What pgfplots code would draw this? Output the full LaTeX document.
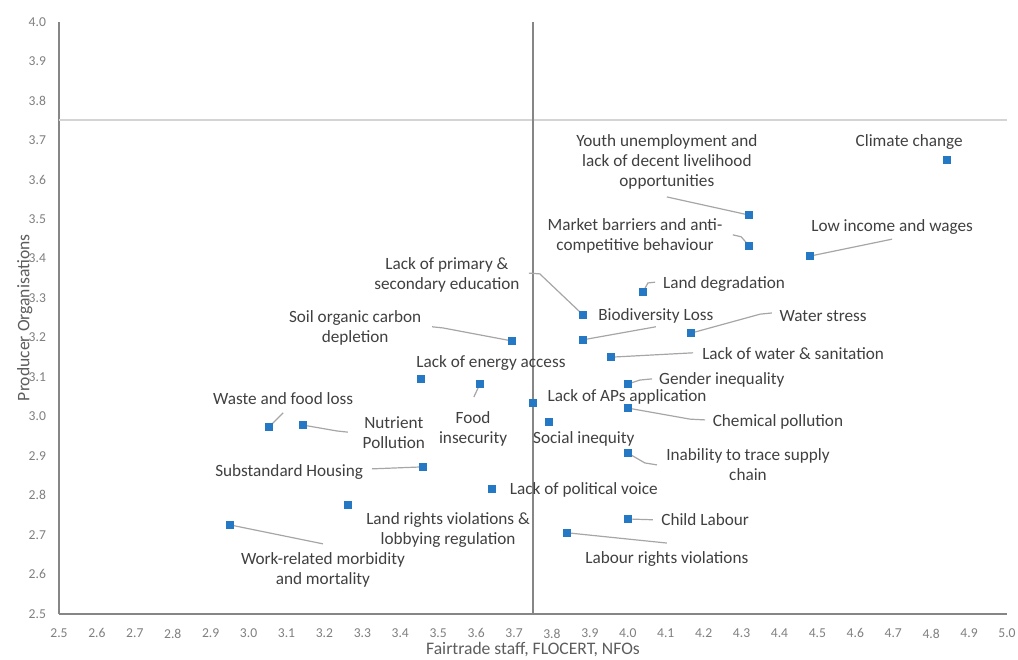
\documentclass[border=0pt]{standalone}
\usepackage{fontspec}
\setmainfont{Carlito}
\usepackage{pgfplots}
\pgfplotsset{compat=1.18}
\usetikzlibrary{calc}

\definecolor{markblue}{HTML}{2478C4}
\definecolor{leader}{HTML}{A6A6A6}
\definecolor{txt}{HTML}{404040}
\definecolor{tick}{HTML}{7F7F7F}
\definecolor{spine}{HTML}{868686}
\definecolor{hline}{HTML}{D4D4D4}

\begin{document}
\begin{tikzpicture}[
  lbl/.style={font=\fontsize{8.6}{10}\selectfont, text=txt, align=center, inner sep=0pt},
  ld/.style={draw=leader, line width=0.6pt}
]
\begin{axis}[
  width=474pt, height=296pt, scale only axis,
  xmin=2.5, xmax=5.0, ymin=2.5, ymax=4.0,
  axis lines=left,
  axis line style={draw=spine, line width=0.9pt, -},
  major tick length=0pt,
  xtick={2.5,2.6,2.7,2.8,2.9,3.0,3.1,3.2,3.3,3.4,3.5,3.6,3.7,3.8,3.9,4.0,4.1,4.2,4.3,4.4,4.5,4.6,4.7,4.8,4.9,5.0},
  ytick={2.5,2.6,2.7,2.8,2.9,3.0,3.1,3.2,3.3,3.4,3.5,3.6,3.7,3.8,3.9,4.0},
  /pgf/number format/assume math mode=true,
  /pgf/number format/.cd, fixed, fixed zerofill, precision=1, /pgfplots/.cd,
  ticklabel style={font=\fontsize{6.8}{8}\selectfont, text=tick},
  xticklabel style={yshift=-4pt},
  yticklabel style={xshift=-3pt},
  xlabel={Fairtrade staff, FLOCERT, NFOs},
  ylabel={Producer Organisations},
  label style={font=\fontsize{8.8}{10}\selectfont, text=txt!85},
  xlabel style={at={(axis description cs:0.5,-0.061)}, anchor=center},
  ylabel style={at={(axis description cs:-0.036,0.5)}, anchor=center},
  clip=false,
]
% reference lines
\addplot[draw=hline, line width=0.9pt] coordinates {(2.5,3.75) (5.0,3.75)};
\addplot[draw=spine, line width=0.9pt] coordinates {(3.75,2.5) (3.75,4.0)};

% leader lines
\draw[ld] (axis cs:4.103,3.556) -- (axis cs:4.32,3.51);
\draw[ld] (axis cs:4.277,3.460) -- (axis cs:4.299,3.455) -- (axis cs:4.32,3.432);
\draw[ld] (axis cs:4.697,3.449) -- (axis cs:4.48,3.406);
\draw[ld] (axis cs:4.072,3.340) -- (axis cs:4.053,3.338) -- (axis cs:4.04,3.315);
\draw[ld] (axis cs:3.739,3.363) -- (axis cs:3.768,3.361) -- (axis cs:3.882,3.257);
\draw[ld] (axis cs:4.074,3.227) -- (axis cs:3.882,3.194);
\draw[ld] (axis cs:4.380,3.262) -- (axis cs:4.349,3.259) -- (axis cs:4.167,3.211);
\draw[ld] (axis cs:4.172,3.161) -- (axis cs:3.956,3.150);
\draw[ld] (axis cs:3.484,3.227) -- (axis cs:3.513,3.224) -- (axis cs:3.695,3.191);
\draw[ld] (axis cs:3.594,3.049) -- (axis cs:3.61,3.082);
\draw[ld] (axis cs:3.091,3.009) -- (axis cs:3.054,2.973);
\draw[ld] (axis cs:3.262,2.960) -- (axis cs:3.233,2.963) -- (axis cs:3.143,2.978);
\draw[ld] (axis cs:3.325,2.867) -- (axis cs:3.46,2.872);
\draw[ld] (axis cs:3.196,2.677) -- (axis cs:2.951,2.725);
\draw[ld] (axis cs:4.064,3.095) -- (axis cs:4.032,3.092) -- (axis cs:4.0,3.082);
\draw[ld] (axis cs:4.204,2.991) -- (axis cs:4.164,2.993) -- (axis cs:4.0,3.021);
\draw[ld] (axis cs:4.077,2.877) -- (axis cs:4.045,2.882) -- (axis cs:4.0,2.907);
\draw[ld] (axis cs:4.066,2.738) -- (axis cs:4.0,2.740);
\draw[ld] (axis cs:4.103,2.679) -- (axis cs:3.84,2.705);

% data points
\addplot[only marks, mark=square*, mark size=1.75pt, color=markblue] coordinates {
  (4.842,3.650) (4.320,3.510) (4.320,3.432) (4.480,3.406) (4.040,3.315)
  (3.882,3.257) (3.882,3.194) (4.167,3.211) (3.956,3.150) (3.695,3.191)
  (3.455,3.095) (3.610,3.082) (3.054,2.973) (3.143,2.978) (3.460,2.872)
  (3.642,2.816) (3.262,2.776) (2.951,2.725) (3.750,3.034) (3.792,2.986)
  (4.000,3.082) (4.000,3.021) (4.000,2.907) (4.000,2.740) (3.840,2.705)
};

% labels
\node[lbl] at (axis cs:4.742,3.695) {Climate change};
\node[lbl] at (axis cs:4.103,3.645) {Youth unemployment and\\lack of decent livelihood\\opportunities};
\node[lbl] at (axis cs:4.019,3.457) {Market barriers and anti-\\competitive behaviour};
\node[lbl] at (axis cs:4.697,3.480) {Low income and wages};
\node[lbl] at (axis cs:4.254,3.335) {Land degradation};
\node[lbl] at (axis cs:3.523,3.358) {Lack of primary \&\\secondary education};
\node[lbl] at (axis cs:4.074,3.254) {Biodiversity Loss};
\node[lbl] at (axis cs:4.515,3.254) {Water stress};
\node[lbl] at (axis cs:4.436,3.158) {Lack of water \& sanitation};
\node[lbl] at (axis cs:3.281,3.224) {Soil organic carbon\\depletion};
\node[lbl] at (axis cs:3.639,3.135) {Lack of energy access};
\node[lbl] at (axis cs:3.592,2.968) {Food\\insecurity};
\node[lbl] at (axis cs:3.091,3.044) {Waste and food loss};
\node[lbl] at (axis cs:3.383,2.960) {Nutrient\\Pollution};
\node[lbl] at (axis cs:3.107,2.859) {Substandard Housing};
\node[lbl] at (axis cs:3.884,2.813) {Lack of political voice};
\node[lbl] at (axis cs:3.526,2.712) {Land rights violations \&\\lobbying regulation};
\node[lbl] at (axis cs:3.196,2.611) {Work-related morbidity\\and mortality};
\node[lbl] at (axis cs:3.998,3.049) {Lack of APs application};
\node[lbl] at (axis cs:3.884,2.943) {Social inequity};
\node[lbl] at (axis cs:4.248,3.092) {Gender inequality};
\node[lbl] at (axis cs:4.396,2.986) {Chemical pollution};
\node[lbl] at (axis cs:4.317,2.877) {Inability to trace supply\\chain};
\node[lbl] at (axis cs:4.204,2.738) {Child Labour};
\node[lbl] at (axis cs:4.103,2.639) {Labour rights violations};
\end{axis}
\pgfresetboundingbox
\path ($(current axis.south west)+(-29.5pt,-23pt)$) rectangle ($(current axis.north east)+(5.5pt,10.85pt)$);
\end{tikzpicture}
\end{document}
